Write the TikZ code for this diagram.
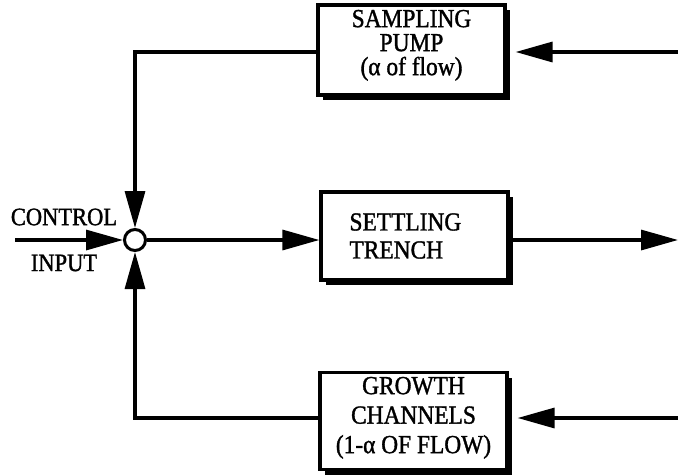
\documentclass[tikz,border=0pt]{standalone}
\usepackage{fontspec}
\setmainfont{Liberation Serif}[FakeStretch=0.9,FakeBold=1.3]
\usetikzlibrary{arrows.meta,shadows}
\begin{document}
\begin{tikzpicture}[x=1pt,y=-1pt,
  blockbox/.style={draw,line width=3.2pt,fill=white,minimum width=187pt,inner sep=0pt,
     drop shadow={shadow xshift=5pt,shadow yshift=-5pt,fill=black,opacity=1}},
  sumnode/.style={circle,draw,line width=3pt,fill=white,minimum size=21pt,inner sep=0pt},
  flow/.style={line width=3.2pt,-{Triangle[length=37pt,width=20pt]}},
  lbl/.style={font=\fontsize{25}{28}\selectfont,inner sep=0pt}]
\useasboundingbox (0,0) rectangle (678,475);
\fill[white] (0,0) rectangle (678,475);
% blocks
\node[blockbox,minimum height=90pt,align=center,font=\fontsize{26}{24}\selectfont,
      text depth=15pt] (pump) at (411.5,50)
  {SAMPLING\\PUMP\\(α of flow)};
\node[blockbox,minimum height=88pt,align=left,text width=130pt,
      font=\fontsize{26}{28}\selectfont] (trench) at (414.5,236)
  {SETTLING\\TRENCH};
\node[blockbox,minimum height=97pt,align=center,font=\fontsize{26}{29.5}\selectfont,
      text depth=12pt] (chan) at (413.5,421)
  {GROWTH\\CHANNELS\\(1-α OF FLOW)};
% summing junction
\node[sumnode] (sum) at (135,240) {};
% free ends
\coordinate (topR) at (678,52);
\coordinate (botR) at (678,418);
\coordinate (outR) at (678,240);
\coordinate (cin) at (15,240);
% connectors
\draw[flow,shorten >=9pt] (topR) -- (topR -| pump.east);
\draw[flow] (pump.west |- topR) -| (sum.north);
\draw[flow,shorten >=9pt] (botR) -- (botR -| chan.east);
\draw[flow] (chan.west |- botR) -| (sum.south);
\draw[flow] (sum.east) -- (sum.east -| trench.west);
\draw[flow] (trench.east |- outR) -- (outR);
\draw[flow] (cin) -- (sum.west);
% labels
\node[lbl] (ctl) at (64,217) {CONTROL};
\node[lbl] (inp) at (64,263) {INPUT};
\end{tikzpicture}
\end{document}
